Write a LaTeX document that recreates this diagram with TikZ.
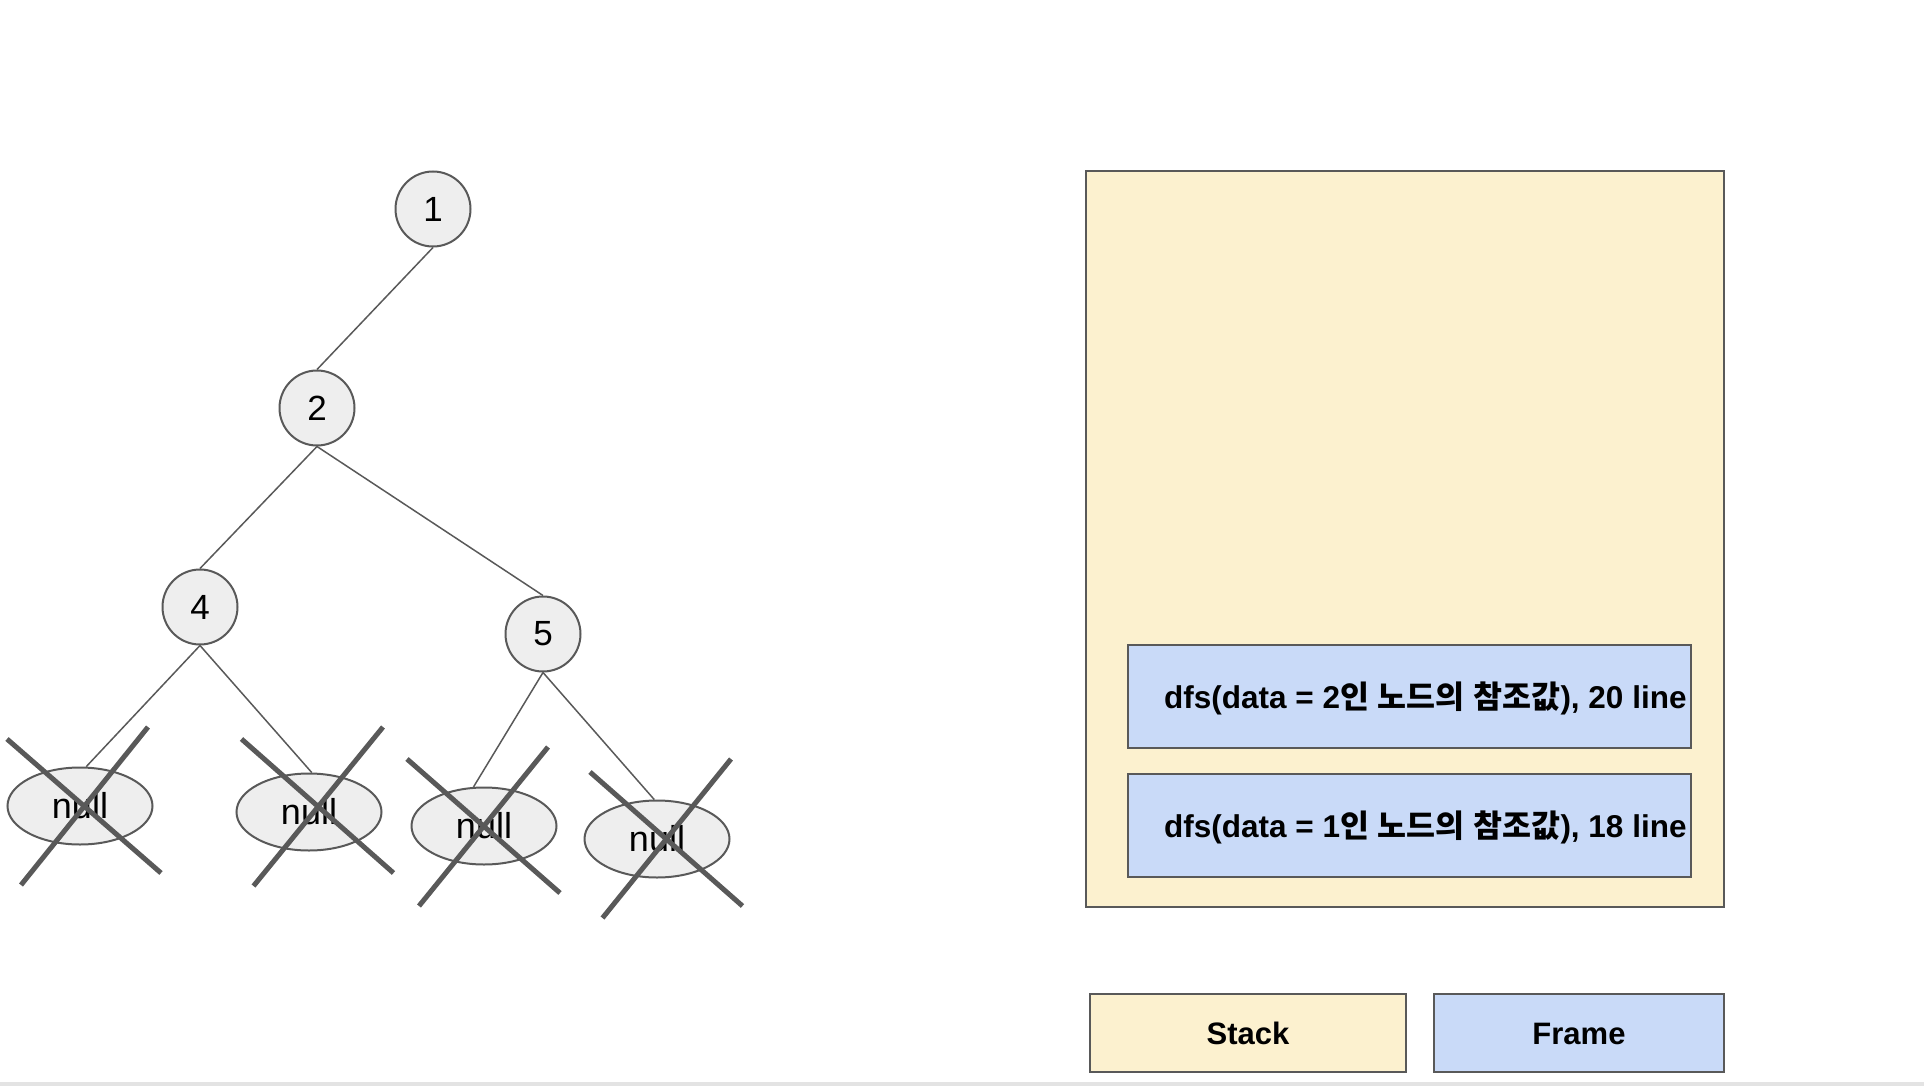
\documentclass[tikz,border=0pt]{standalone}
\usepackage{fontspec}
\setmainfont{Liberation Sans}
\newfontfamily\krfont{Noto Sans CJK KR}
\usetikzlibrary{shapes.geometric}
\definecolor{edgegray}{HTML}{595959}
\definecolor{nodefill}{HTML}{EEEEEE}
\definecolor{stackfill}{HTML}{FCF1CF}
\definecolor{framefill}{HTML}{C9DAF8}
\definecolor{bandgray}{HTML}{E3E3E3}
\tikzset{
  treenode/.style={circle, draw=edgegray, line width=2pt, fill=nodefill, minimum size=75pt, inner sep=0pt, font=\fontsize{35}{40}\selectfont},
  nullnode/.style={ellipse, draw=edgegray, line width=2pt, fill=nodefill, minimum width=145pt, minimum height=77pt, inner sep=0pt, font=\fontsize{36}{40}\selectfont},
  edge/.style={draw=edgegray, line width=1.5pt},
  cross/.style={draw=edgegray, line width=5pt},
  stackbox/.style={draw=edgegray, line width=2pt, fill=stackfill},
  framebox/.style={draw=edgegray, line width=2pt, fill=framefill},
  frametext/.style={anchor=base west, inner sep=0pt, font=\fontsize{31.5}{36}\selectfont\bfseries},
  legendtext/.style={anchor=base, inner sep=0pt, font=\fontsize{31}{36}\selectfont\bfseries}
}
\begin{document}
\begin{tikzpicture}[x=1pt, y=-1pt]
\useasboundingbox (0,0) rectangle (1924,1086);
\fill[bandgray] (0,1082) rectangle (1924,1086);

% tree
\node[treenode] (n1) at (433,209) {1};
\node[treenode] (n2) at (317,408) {2};
\node[treenode] (n4) at (200,607) {4};
\node[treenode] (n5) at (543,634) {5};
\node[nullnode] (z1) at (80,806) {null};
\node[nullnode] (z2) at (309,812) {null};
\node[nullnode] (z3) at (484,826) {null};
\node[nullnode] (z4) at (657,839) {null};

\draw[edge] (n1.south) -- (n2.north);
\draw[edge] (n2.south) -- (n4.north);
\draw[edge] (n2.south) -- (n5.north);
\draw[edge] (n4.south) -- (z1.81);
\draw[edge] (n4.south) -- (z2.86);
\draw[edge] (n5.south) -- (z3.105);
\draw[edge] (n5.south) -- (z4.94);

% crosses
\draw[cross] (7,739) -- (161,873);
\draw[cross] (21,885) -- (148,727);
\draw[cross] (241.5,739) -- (393.5,873);
\draw[cross] (253.5,886) -- (383,727);
\draw[cross] (407,759) -- (560,893);
\draw[cross] (419,906) -- (548,747);
\draw[cross] (590,772) -- (742.5,906);
\draw[cross] (602.5,918) -- (731,759);

% stack
\draw[stackbox] (1086,171) rectangle (1724,907);
\draw[framebox] (1128,645) rectangle (1691,748);
\draw[framebox] (1128,774) rectangle (1691,877);
\node[frametext] (f2) at (1164,708.5) {dfs(data = 2{\krfont 인} {\krfont 노드의} {\krfont 참조값}), 20 line};
\node[frametext] (f1) at (1164,837.5) {dfs(data = 1{\krfont 인} {\krfont 노드의} {\krfont 참조값}), 18 line};

% legend
\draw[stackbox] (1090,993.5) rectangle (1406,1071.5);
\draw[framebox] (1434,993.5) rectangle (1724,1071.5);
\node[legendtext] (ls) at (1248,1044) {Stack};
\node[legendtext] (lf) at (1579,1044) {Frame};
\end{tikzpicture}
\end{document}
